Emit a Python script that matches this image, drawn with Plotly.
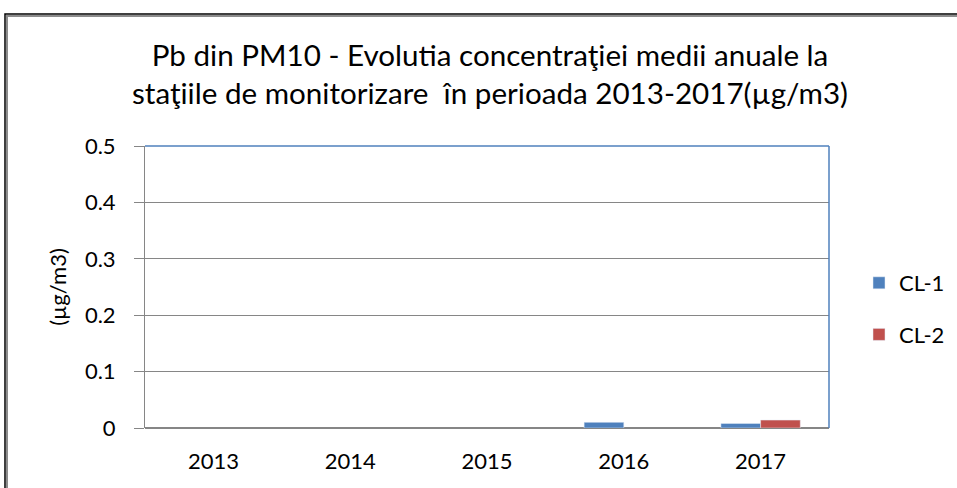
import plotly.graph_objects as go

years = ["2013", "2014", "2015", "2016", "2017"]
cl1 = [None, None, None, 0.010, 0.008]
cl2 = [None, None, None, None, 0.014]
y_ticks = [0, 0.1, 0.2, 0.3, 0.4, 0.5]
y_labels = ["0", "0.1", "0.2", "0.3", "0.4", "0.5"]

FONT = "Lato, 'Open Sans', sans-serif"

fig = go.Figure()
fig.add_trace(go.Bar(x=years, y=cl1, name="CL-1", legendgroup="a",
                     marker=dict(color="#4F81BD")))
fig.add_trace(go.Bar(x=years, y=cl2, name="CL-2", legendgroup="b",
                     marker=dict(color="#C0504D")))

W, H = 957, 488
L, R, T, B = 145, 128, 146, 60
pw, ph = W - L - R, H - T - B

def px(x):
    return (x - L) / pw

def py(y):
    return (H - B - y) / ph

fig.update_layout(
    width=W, height=H,
    margin=dict(l=L, r=R, t=T, b=B, autoexpand=False),
    paper_bgcolor="white", plot_bgcolor="white",
    barmode="group", bargap=0.42, bargroupgap=0,
    font=dict(family=FONT, size=22, color="black"),
    title=dict(
        text="Pb din PM10 - Evolutia concentraţiei medii anuale la<br>staţiile de monitorizare  în perioada 2013-2017(µg/m3)",
        x=490 / W, xanchor="center", xref="container",
        y=1 - 66 / H, yanchor="top", yref="container",
        font=dict(family=FONT, size=29.6, color="black"),
    ),
    legend=dict(
        x=px(859), y=py(262), xanchor="left", yanchor="top",
        font=dict(family=FONT, size=22), tracegroupgap=20,
        itemwidth=30, bgcolor="rgba(0,0,0,0)",
    ),
    xaxis=dict(
        showgrid=False, showline=False, ticks="",
        tickfont=dict(family=FONT, size=22), ticklabelstandoff=18,
    ),
    yaxis=dict(
        range=[0, 0.5], tickvals=y_ticks, ticktext=y_labels,
        showgrid=True, gridcolor="#868686", gridwidth=1,
        showline=True, linecolor="#868686", linewidth=1,
        ticks="outside", ticklen=10, tickcolor="#868686",
        zeroline=True, zerolinecolor="#868686", zerolinewidth=2,
        tickfont=dict(family=FONT, size=22), ticklabelstandoff=14,
        title=dict(text="(µg/m3)", font=dict(family=FONT, size=22), standoff=12),
    ),
    shapes=[
        dict(type="line", xref="paper", yref="paper", x0=0, x1=1, y0=1, y1=1,
             line=dict(color="#4F81BD", width=1.5)),
        dict(type="line", xref="paper", yref="paper", x0=1, x1=1, y0=0, y1=1,
             line=dict(color="#4F81BD", width=1.5)),
        dict(type="rect", xref="paper", yref="paper",
             x0=px(7), x1=px(975), y0=py(16), y1=py(505),
             line=dict(color="#8C8C8C", width=2)),
        dict(type="rect", xref="paper", yref="paper",
             x0=px(5), x1=px(975), y0=py(14), y1=py(505),
             line=dict(color="black", width=1.5)),
    ],
)

fig.write_html(
    "out.html",
    config={"displayModeBar": False},
    post_script="document.body.style.margin='0px';document.body.style.overflow='hidden';",
)
